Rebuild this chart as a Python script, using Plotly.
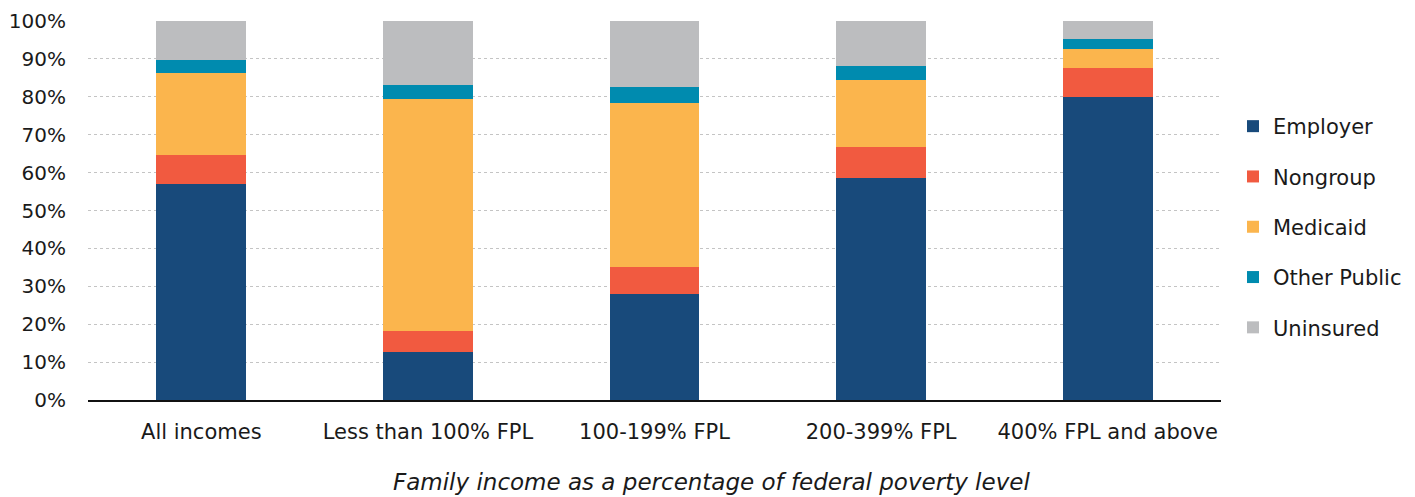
import plotly.graph_objects as go

categories = ["All incomes", "Less than 100% FPL", "100-199% FPL", "200-399% FPL", "400% FPL and above"]
employer = [57.0, 12.7, 28.1, 58.6, 79.9]
nongroup = [7.6, 5.4, 7.1, 8.2, 7.6]
medicaid = [21.8, 61.4, 43.2, 17.6, 5.2]
other_public = [3.3, 3.6, 4.2, 3.6, 2.5]
uninsured = [10.3, 16.9, 17.4, 12.0, 4.8]

series = [
    ("Employer", employer, "#184A7B"),
    ("Nongroup", nongroup, "#F15A40"),
    ("Medicaid", medicaid, "#FBB54D"),
    ("Other Public", other_public, "#008BAF"),
    ("Uninsured", uninsured, "#BCBDBF"),
]

FONT = "'DejaVu Sans', sans-serif"
fig = go.Figure()
for name, vals, color in series:
    fig.add_trace(go.Bar(
        x=categories, y=vals, name=name, legendgroup=name,
        marker=dict(color=color, line=dict(width=0)),
    ))

fig.add_annotation(
    text="<i>Family income as a percentage of federal poverty level</i>",
    xref="paper", yref="paper", x=(711 - 88) / 1133, y=(400 - 482) / 379,
    xanchor="center", yanchor="middle", showarrow=False,
    font=dict(size=23, color="#1a1a1a"),
)

fig.update_layout(
    barmode="stack",
    bargap=0.603,
    width=1415, height=497,
    margin=dict(l=88, r=194, t=21, b=97),
    plot_bgcolor="white", paper_bgcolor="white",
    font=dict(family=FONT, size=20, color="#1a1a1a"),
    legend=dict(
        xref="container", yref="container",
        x=1233/1415, y=(497-227)/497, xanchor="left", yanchor="middle",
        traceorder="grouped", tracegroupgap=20, maxheight=497,
        font=dict(size=21, color="#1a1a1a"),
    ),
    xaxis=dict(
        automargin=False,
        showline=True, linecolor="#111111", linewidth=2,
        ticks="", tickfont=dict(size=21), ticklabelstandoff=12,
    ),
    yaxis=dict(
        automargin=False,
        range=[0, 100], tickvals=list(range(0, 101, 10)),
        ticktext=[f"{v}%" for v in range(0, 101, 10)],
        showgrid=True, gridcolor="#C4C4C4", griddash="dot", gridwidth=1,
        zeroline=False, tickfont=dict(size=20), ticklabelstandoff=21,
    ),
)

fig.write_html("out.html")
